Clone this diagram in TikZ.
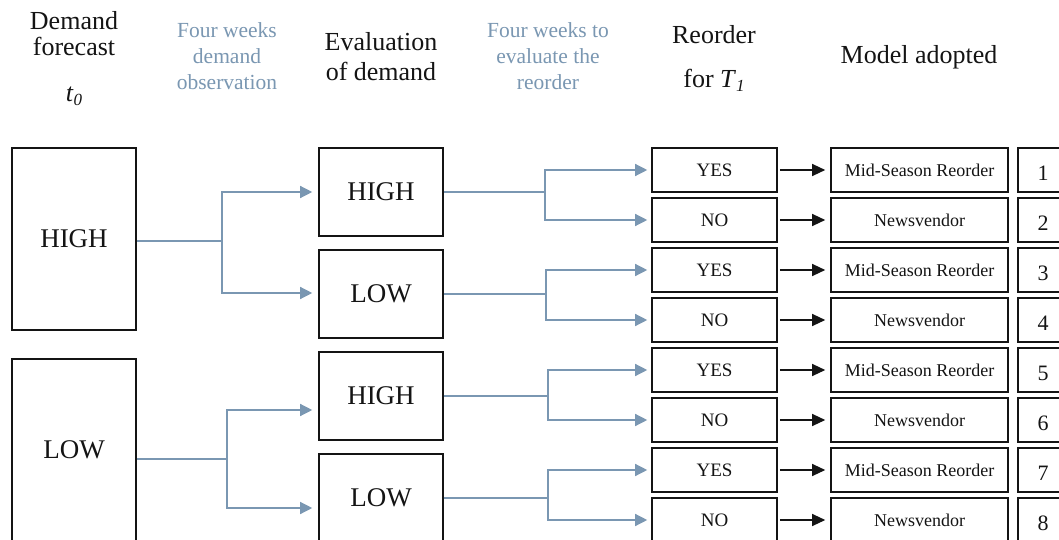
\documentclass[tikz,border=0pt]{standalone}
\usepackage{fontspec}
\setmainfont{Liberation Serif}
\usetikzlibrary{arrows.meta,calc}
\definecolor{bluegray}{RGB}{122,151,178}
\definecolor{ink}{RGB}{20,20,20}
\newcommand{\itsub}[2]{\textit{#1}\raisebox{-0.35ex}{\fontsize{17}{17}\selectfont\textit{#2}}}
\tikzset{
  box/.style={draw=ink,line width=1.6pt,rectangle,inner sep=0pt,text=ink},
  bigbox/.style={box,minimum width=124pt,minimum height=182pt,font=\fontsize{27}{30}\selectfont},
  evalbox/.style={box,minimum width=124pt,minimum height=88pt,font=\fontsize{27}{30}\selectfont},
  rbox/.style={box,minimum width=125pt,minimum height=44pt,font=\fontsize{19}{22}\selectfont},
  mbox/.style={box,minimum width=177pt,minimum height=44pt,font=\fontsize{18}{22}\selectfont},
  numtext/.style={text=ink,font=\fontsize{22}{24}\selectfont},
  head/.style={text=ink,align=center,font=\fontsize{26}{26}\selectfont},
  headwide/.style={text=ink,align=center,font=\fontsize{26}{30}\selectfont},
  bluehead/.style={text=bluegray,align=center,font=\fontsize{21.5}{26}\selectfont},
  blueline/.style={draw=bluegray,line width=1.3pt},
  bluearrow/.style={blueline,-{Triangle[length=12pt,width=12pt]}},
  blackarrow/.style={draw=ink,line width=1.2pt,-{Triangle[length=13pt,width=12pt]}},
}
\begin{document}
\begin{tikzpicture}[x=1pt,y=-1pt]
\useasboundingbox (0,0) rectangle (1059,540);
\clip (0,0) rectangle (1059,540);
\fill[white] (0,0) rectangle (1059,540);
% headers
\node[head] (h1) at (74,34) {Demand\\forecast};
\node[head] (h1t) at (74,96) {\itsub{t}{0}};
\node[bluehead] (h2) at (227,56) {Four weeks\\demand\\observation};
\node[headwide] (h3) at (381,57) {Evaluation\\of demand};
\node[bluehead] (h4) at (548,56) {Four weeks to\\evaluate the\\reorder};
\node[head] (h5) at (714,35) {Reorder};
\node[head] (h5b) at (714,80) {for \itsub{T}{1}};
\node[head] (h6) at (919,57) {Model adopted};
% big boxes
\node[bigbox] (H0) at (74,239) {HIGH};
\node[bigbox] (L0) at (74,450) {LOW};
% evaluation boxes
\node[evalbox] (E1) at (381,192) {HIGH};
\node[evalbox] (E2) at (381,294) {LOW};
\node[evalbox] (E3) at (381,396) {HIGH};
\node[evalbox] (E4) at (381,498) {LOW};
% reorder, model, number
\foreach \i/\r/\m in {1/YES/Mid-Season Reorder,2/NO/Newsvendor,3/YES/Mid-Season Reorder,4/NO/Newsvendor,5/YES/Mid-Season Reorder,6/NO/Newsvendor,7/YES/Mid-Season Reorder,8/NO/Newsvendor}{
  \pgfmathsetmacro{\yy}{170+50*(\i-1)}
  \node[rbox] (R\i) at (714.5,\yy) {\r};
  \node[mbox] (M\i) at (919.5,\yy) {\m};
  \draw[draw=ink,line width=1.6pt] (1018,\yy-22) rectangle (1075,\yy+22);
  \node[numtext] (N\i) at (1043,\yy+3) {\i};
  \draw[blackarrow,shorten <=2pt,shorten >=5pt] (R\i.east) -- (M\i.west);
}
% first-level connectors
\coordinate (j1) at (222,241);
\coordinate (j2) at (227,459);
\draw[blueline] ([yshift=-2pt]H0.east) -- (j1);
\draw[bluearrow] (j1) |- ($(E1.west)+(-6,0)$);
\draw[bluearrow] (j1) |- ($(E2.west)+(-6,-1)$);
\draw[blueline] ([yshift=-9pt]L0.east) -- (j2);
\draw[bluearrow] (j2) |- ($(E3.west)+(-6,14)$);
\draw[bluearrow] (j2) |- ($(E4.west)+(-6,10)$);
% second-level connectors
\foreach \e/\a/\b/\x in {E1/R1/R2/545,E2/R3/R4/546,E3/R5/R6/548,E4/R7/R8/548}{
  \draw[blueline] (\e.east) -- (\x,0 |- \e.east) coordinate (k\e);
  \draw[bluearrow] (k\e) |- ($(\a.west)+(-4,0)$);
  \draw[bluearrow] (k\e) |- ($(\b.west)+(-4,0)$);
}
\end{tikzpicture}
\end{document}
